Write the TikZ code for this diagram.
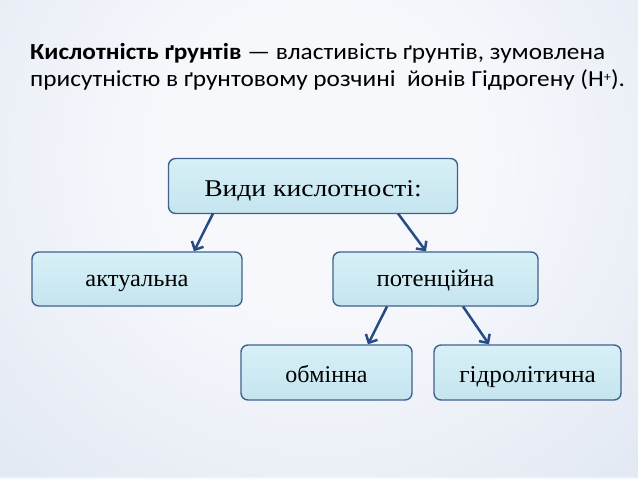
\documentclass[tikz,border=0pt]{standalone}
\usepackage{fontspec}
\usepackage{graphicx}
\setmainfont{Liberation Serif}
\newfontfamily\titlefont{Carlito}
\usetikzlibrary{arrows.meta}
\definecolor{bgc}{HTML}{F6F8FC}
\definecolor{bge}{HTML}{BCCBE1}
\definecolor{boxtop}{HTML}{D8F0F7}
\definecolor{boxbot}{HTML}{C5E5EF}
\definecolor{boxline}{HTML}{41628E}
\definecolor{arrowc}{HTML}{274B84}
\pgfdeclareradialshading{bgshade}{\pgfpoint{0bp}{0bp}}{color(0bp)=(bgc); color(8bp)=(bgc); color(50bp)=(bge); color(72bp)=(bge)}
\tikzset{
  box/.style={draw=boxline, line width=1.4pt, rounded corners=7pt,
    top color=boxtop, bottom color=boxbot, inner sep=0pt, text depth=0pt,
    font=\fontsize{24}{26}\selectfont, text=black},
  link/.style={draw=arrowc, line width=2.5pt, -{Straight Barb[length=6.5pt,width=13pt,line width=2.5pt]}},
  ttl/.style={anchor=base west, inner sep=0pt, font=\titlefont\fontsize{23}{26}\selectfont, text=black}
}
\begin{document}
\begin{tikzpicture}[x=1pt,y=-1pt]
\useasboundingbox (0,0) rectangle (638,479);
\begin{scope}
\clip (0,0) rectangle (638,479);
\shade[shading=bgshade] (-200,-330) rectangle (840,650);
\fill[white, opacity=0.5] (0,476.5) rectangle (638,479);
\end{scope}
\node[ttl] (t1) at (30,59) {\scalebox{1.1}[1]{\textbf{Кислотність ґрунтів} — властивість ґрунтів, зумовлена}};
\node[ttl] (t2) at (30,86) {\scalebox{1.1}[1]{присутністю в ґрунтовому розчині \ йонів Гідрогену (H\raisebox{5pt}{\fontsize{13}{13}\selectfont +}).}};

\node[box, minimum width=289pt, minimum height=55pt, text height=21.4pt] (top) at (313,186) {\scalebox{1.15}[1]{Види кислотності:}};
\node[box, minimum width=210pt, minimum height=54pt, text height=14pt] (act) at (137,279) {\scalebox{1.02}[1]{актуальна}};
\node[box, minimum width=205pt, minimum height=54pt, text height=14pt] (pot) at (435.5,279) {\scalebox{1.03}[1]{потенційна}};
\node[box, minimum width=171pt, minimum height=55pt, text height=19pt] (obm) at (326.5,372.5) {обмінна};
\node[box, minimum width=187pt, minimum height=55pt, text height=19pt] (hid) at (527.5,372.5) {\scalebox{1.05}[1]{гідролітична}};

\coordinate (a1) at (213,213.5);
\coordinate (a2) at (398,213.5);
\coordinate (b1) at (387,306.5);
\coordinate (b2) at (463,306.5);
\draw[link] (a1) -- (act.north -| 194,0);
\draw[link] (a2) -- (pot.north -| 426,0);
\draw[link] (b1) -- (obm.north -| 368,0);
\draw[link] (b2) -- (hid.north -| 489,0);
\end{tikzpicture}
\end{document}
